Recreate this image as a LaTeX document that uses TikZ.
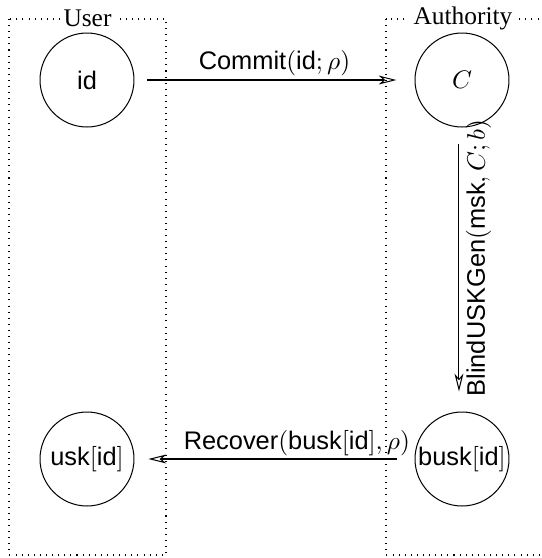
\documentclass[tikz,border=0pt]{standalone}
\usepackage{fontspec}
\setmainfont{Liberation Serif}
\setsansfont{Liberation Sans}
\usetikzlibrary{arrows.meta}
\begin{document}
\begin{tikzpicture}[x=0.3937pt,y=-0.3937pt,
  party/.style={circle,draw,minimum size=37pt,inner sep=0pt,font=\sffamily},
  box/.style={draw,dotted},
  boxlabel/.style={fill=white,inner sep=1.5pt,font=\rmfamily},
  msg/.style={draw,-{Stealth[open,length=7pt,width=3.5pt,inset=2pt]}},
  lbl/.style={font=\sffamily}]
\useasboundingbox (0,0) rectangle (542,558);
\draw[box] (9,19) rectangle (166,555);
\draw[box] (386,19) rectangle (545,555);
\node[boxlabel] (user) at (87.5,18) {User};
\node[boxlabel] (auth) at (463,18) {Authority};
\node[party] (id) at (87,80) {id};
\node[party] (C) at (462,80) {$C$};
\node[party] (usk) at (87,459) {usk$[$id$]$};
\node[party] (busk) at (462,459) {busk$[$id$]$};
\draw[msg, shorten <=5.1pt, shorten >=7.1pt] (id) -- node[lbl, above, inner sep=1.5pt, pos=0.5] (l1) {$\textsf{Commit}(\textsf{id};\rho)$} (C);
\draw[msg, shorten <=6.3pt, shorten >=7.9pt] ([xshift=-1.2pt]C.south) -- node[lbl, pos=0.46, rotate=90, anchor=north, inner sep=2.5pt] (l2) {$\textsf{BlindUSKGen}(\textsf{msk}, C; b)$} ([xshift=-1.2pt]busk.north);
\draw[msg, shorten <=6.7pt, shorten >=5.5pt] (busk) -- node[lbl, above, inner sep=1.2pt, pos=0.42] (l3) {$\textsf{Recover}(\textsf{busk}[\textsf{id}], \rho)$} (usk);
\end{tikzpicture}
\end{document}
